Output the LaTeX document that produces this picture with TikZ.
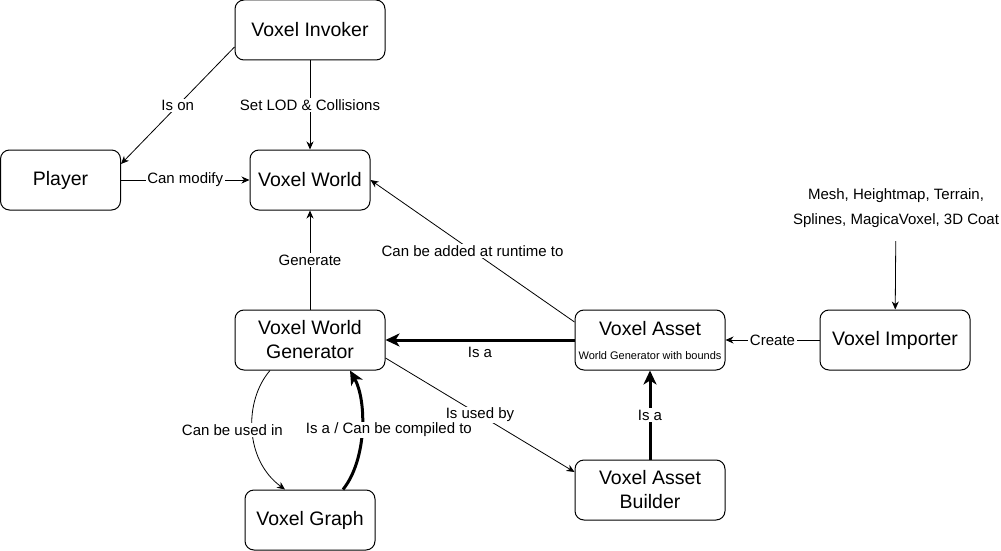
\documentclass[tikz,border=0pt]{standalone}
\usepackage{fontspec}
\setmainfont{Liberation Sans}
\usetikzlibrary{arrows.meta}

\begin{document}
\begin{tikzpicture}[x=1pt, y=-1pt,
  box/.style={draw, line width=1pt, rounded corners=9pt, minimum width=150pt,
    minimum height=60pt, inner sep=0pt, align=center,
    font=\fontsize{19.5}{24}\selectfont},
  lbl/.style={fill=white, inner sep=1.5pt, font=\fontsize{15}{18}\selectfont},
  link/.style={-{Stealth[length=8pt, width=7pt, inset=2.5pt]}, line width=0.8pt},
  strong/.style={-{Stealth[length=14pt, width=13pt, inset=4pt]}, line width=3pt}]

  \useasboundingbox (0,0) rectangle (1001,551);

  % Boxes
  \node[box] (invoker) at (310,30) {Voxel Invoker};
  \node[box, minimum width=120pt] (player) at (60.5,180) {Player};
  \node[box, minimum width=120pt] (world) at (310,180) {Voxel World};
  \node[box] (gen) at (310,340) {Voxel World\\Generator};
  \node[box, minimum width=130pt] (graph) at (310,520) {Voxel Graph};
  \node[box] (asset) at (650,340)
    {Voxel Asset\\{\fontsize{11}{13}\selectfont World Generator with bounds}};
  \node[box] (builder) at (650,490) {Voxel Asset\\Builder};
  \node[box] (importer) at (895,340) {Voxel Importer};

  % Importer sources
  \node[align=center, font=\fontsize{15}{25}\selectfont] (formats) at (896,208)
    {Mesh, Heightmap, Terrain,\\Splines, MagicaVoxel, 3D Coat};

  % Straight edges
  \draw[link] ([yshift=-17pt]invoker.west) -- node[lbl] {Is on} ([yshift=16pt]player.east);
  \draw[link] (invoker) -- node[lbl] {Set LOD \& Collisions} (world);
  \draw[link] (player) -- node[lbl] {Can modify} (world);
  \draw[link] (gen) -- node[lbl] {Generate} (world);
  \draw[link] ([yshift=18pt]asset.west) -- node[lbl] {Can be added at runtime to} (world.east);
  \draw[strong] (asset) -- node[below=2pt, font=\fontsize{15}{18}\selectfont] {Is a} (gen);
  \draw[link] (importer) -- node[lbl] {Create} (asset);
  \draw[link, shorten <=10pt] (formats) -- (importer);
  \draw[strong] (builder) -- node[lbl] {Is a} (asset);
  \draw[link] ([yshift=-18pt]gen.east) -- node[lbl] {Is used by} ([yshift=18pt]builder.west);

  % Curved edges
  \draw[link] ([xshift=-40pt]gen.south) .. controls +(-26,30) and +(-41,-30) ..
    node[lbl, xshift=-20pt] {Can be used in} ([xshift=-25pt]graph.north);
  \draw[strong] ([xshift=33pt]graph.north) .. controls +(24,-30) and +(17,30) ..
    node[lbl, xshift=27pt] {Is a / Can be compiled to} ([xshift=40pt]gen.south);

\end{tikzpicture}
\end{document}
